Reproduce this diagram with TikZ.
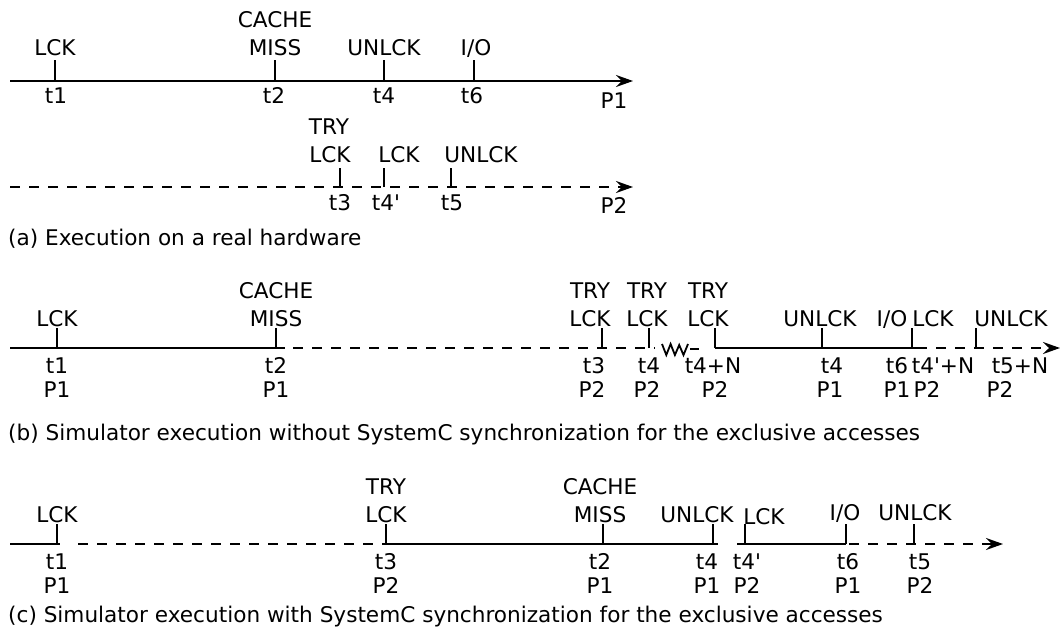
\documentclass[tikz,border=0pt]{standalone}
\usepackage{fontspec}
\setmainfont{DejaVu Sans}
\usetikzlibrary{arrows.meta}
\newcommand{\pr}{\textquotesingle}
\begin{document}
\begin{tikzpicture}[x=1pt,y=-1pt,
  lbl/.style={anchor=base,inner sep=0pt,font=\fontsize{21.6}{24}\selectfont},
  captxt/.style={anchor=base west,inner sep=0pt,font=\fontsize{21.6}{24}\selectfont},
  axis/.style={line width=2pt},
  dsh/.style={line width=2pt,dash pattern=on 10pt off 9pt},
  tk/.style={line width=1.8pt},
  arr/.style={-{Stealth[length=17pt,width=12pt,inset=6pt]}}
]
\useasboundingbox (0,0) rectangle (1062,634);

% ---------------- (a) ----------------
\coordinate (a1s) at (10,81);
\coordinate (a1e) at (633,81);
\draw[axis,arr] (a1s) -- (a1e);
\foreach \n/\x in {at1/55,at2/275,at4/384,at6/474}{
  \coordinate (\n) at (\x,81);
  \draw[tk] (\n) -- ++(0,-21);
}
\node[lbl] (aLCK) at (55,56) {LCK};
\node[lbl] (aCACHE) at (275,28) {CACHE};
\node[lbl] (aMISS) at (275,56) {MISS};
\node[lbl] (aUNLCK) at (384,56) {UNLCK};
\node[lbl] (aIO) at (476,56) {I/O};
\node[lbl] (alt1) at (56,103) {t1};
\node[lbl] (alt2) at (274,103) {t2};
\node[lbl] (alt4) at (384,103) {t4};
\node[lbl] (alt6) at (472,103) {t6};
\node[lbl] (aP1) at (614,108) {P1};

\coordinate (a2s) at (10,187);
\coordinate (a2e) at (633,187);
\draw[dsh,arr] (a2s) -- (a2e);
\foreach \n/\x in {at3/340,at4p/384,at5/451}{
  \coordinate (\n) at (\x,187);
  \draw[tk] (\n) -- ++(0,-19);
}
\node[lbl] (aTRY) at (329,134) {TRY};
\node[lbl] (aTLCK) at (330,162) {LCK};
\node[lbl] (aLCK2) at (399,162) {LCK};
\node[lbl] (aUNLCK2) at (481,162) {UNLCK};
\node[lbl] (alt3) at (340,210) {t3};
\node[lbl] (alt4p) at (386,210) {t4\pr};
\node[lbl] (alt5) at (452,210) {t5};
\node[lbl] (aP2) at (614,213) {P2};
\node[captxt] (capa) at (8,245) {(a) Execution on a real hardware};

% ---------------- (b) ----------------
\coordinate (b0) at (10,348);
\coordinate (b1) at (285,348);
\coordinate (b2) at (293,348);
\coordinate (b3) at (655,348);
\coordinate (bz) at (662,344);
\coordinate (bz2) at (688,344);
\coordinate (bd1) at (690,349);
\coordinate (bd2) at (699,349);
\coordinate (b4) at (715,348);
\coordinate (b5) at (917,348);
\coordinate (b6) at (1060,348);
\draw[axis] (b0) -- (b1);
\draw[dsh] (b2) -- (b3);
\draw[line width=1.8pt,line join=miter] (bz) -- ++(4.3,11) -- ++(4.3,-11) -- ++(4.3,11) -- ++(4.3,-10) -- ++(4.3,10) -- (bz2);
\draw[axis] (bd1) -- (bd2);
\draw[axis] (b4) -- (b5);
\draw[dsh,arr] (b5) -- (b6);
\foreach \n/\x in {bt1/57,bt2/276,bt3/602,bt4/649,bt4n/715,bt4b/822,bt6/912,bt5n/976}{
  \coordinate (\n) at (\x,348);
  \draw[tk] (\n) -- ++(0,-20);
}
\node[lbl] (bLCK) at (57,326) {LCK};
\node[lbl] (bCACHE) at (276,298) {CACHE};
\node[lbl] (bMISS) at (276,326) {MISS};
\node[lbl] (bTRY1) at (590,298) {TRY};
\node[lbl] (bLCK1) at (590,326) {LCK};
\node[lbl] (bTRY2) at (647,298) {TRY};
\node[lbl] (bLCK2) at (647,326) {LCK};
\node[lbl] (bTRY3) at (708,298) {TRY};
\node[lbl] (bLCK3) at (708,326) {LCK};
\node[lbl] (bUNLCK) at (820,326) {UNLCK};
\node[lbl] (bIO) at (892,326) {I/O};
\node[lbl] (bLCK4) at (933,326) {LCK};
\node[lbl] (bUNLCK2) at (1011,326) {UNLCK};
\node[lbl] (blt1) at (57,373) {t1};
\node[lbl] (blt2) at (276,373) {t2};
\node[lbl] (blt3) at (594,373) {t3};
\node[lbl] (blt4) at (649,373) {t4};
\node[lbl] (blt4n) at (713,373) {t4+N};
\node[lbl] (blt4b) at (832,373) {t4};
\node[lbl] (blt6) at (897,373) {t6};
\node[lbl] (blt4pn) at (943,373) {t4\pr+N};
\node[lbl] (blt5n) at (1020,373) {t5+N};
\node[lbl] (bp1) at (57,397) {P1};
\node[lbl] (bp2) at (276,397) {P1};
\node[lbl] (bp3) at (592,397) {P2};
\node[lbl] (bp4) at (647,397) {P2};
\node[lbl] (bp5) at (715,397) {P2};
\node[lbl] (bp6) at (830,397) {P1};
\node[lbl] (bp7) at (897,397) {P1};
\node[lbl] (bp8) at (927,397) {P2};
\node[lbl] (bp9) at (1000,397) {P2};
\node[captxt] (capb) at (8,440) {(b) Simulator execution without SystemC synchronization for the exclusive accesses};

% ---------------- (c) ----------------
\coordinate (c0) at (10,544);
\coordinate (c1) at (60,544);
\coordinate (c2) at (78,544);
\coordinate (c3) at (386,544);
\coordinate (c4) at (718,544);
\coordinate (c5) at (737,544);
\coordinate (c6) at (846,544);
\coordinate (c7) at (849,544);
\coordinate (c8) at (1003,544);
\draw[axis] (c0) -- (c1);
\draw[dsh] (c2) -- (c3);
\draw[axis] (c3) -- (c4);
\draw[axis] (c5) -- (c6);
\draw[dsh,arr] (c7) -- (c8);
\foreach \n/\x in {ct1/57,ct3/386,ct2/603,ct4/713,ct4p/745,ct6/846,ct5/914}{
  \coordinate (\n) at (\x,544);
  \draw[tk] (\n) -- ++(0,-20);
}
\node[lbl] (cLCK) at (57,522) {LCK};
\node[lbl] (cTRY) at (386,494) {TRY};
\node[lbl] (cTLCK) at (386,522) {LCK};
\node[lbl] (cCACHE) at (600,494) {CACHE};
\node[lbl] (cMISS) at (600,522) {MISS};
\node[lbl] (cUNLCK) at (697,522) {UNLCK};
\node[lbl] (cLCK2) at (764,524) {LCK};
\node[lbl] (cIO) at (845,520) {I/O};
\node[lbl] (cUNLCK2) at (915,520) {UNLCK};
\node[lbl] (clt1) at (57,569) {t1};
\node[lbl] (clt3) at (386,569) {t3};
\node[lbl] (clt2) at (600,569) {t2};
\node[lbl] (clt4) at (707,569) {t4};
\node[lbl] (clt4p) at (747,569) {t4\pr};
\node[lbl] (clt6) at (848,569) {t6};
\node[lbl] (clt5) at (920,569) {t5};
\node[lbl] (cp1) at (57,593) {P1};
\node[lbl] (cp2) at (386,593) {P2};
\node[lbl] (cp3) at (600,593) {P1};
\node[lbl] (cp4) at (707,593) {P1};
\node[lbl] (cp5) at (747,593) {P2};
\node[lbl] (cp6) at (848,593) {P1};
\node[lbl] (cp7) at (920,593) {P2};
\node[captxt] (capc) at (8,622) {(c) Simulator execution with SystemC synchronization for the exclusive accesses};
\end{tikzpicture}
\end{document}
